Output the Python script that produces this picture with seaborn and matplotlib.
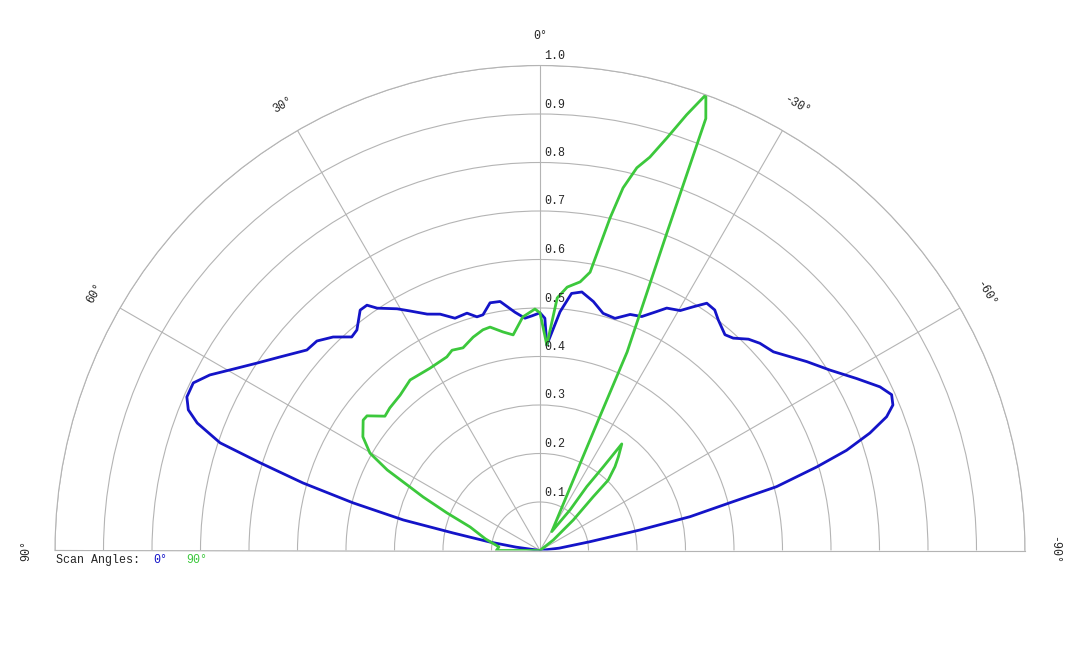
import numpy as np
import pandas as pd
import matplotlib
matplotlib.use('Agg')
import matplotlib.pyplot as plt
import matplotlib.transforms as mtransforms
import seaborn as sns

# scan 0 deg (blue), angles in degrees (0 = top, + = left)
theta_0 = [90, 82, 80.4, 78.6, 77.4, 75.7, 74.1, 72.6, 71.4, 69.6,
           68.2, 66.5, 64.2, 62.0, 59.8, 56.5, 53.3, 49.3, 46.8, 44.1,
           41.4, 39.7, 36.8, 35.2, 33.9, 30.6, 28.5, 25.5, 22.9, 20.1,
           17.1, 15.1, 13.6, 11.4, 9.1, 6.0, 3.7, 2.0, 0.0, -1.2,
           -1.9, -4.8, -7.0, -9.2, -12.1, -14.9, -17.9, -20.9, -23.5, -26.0,
           -27.6, -30.3, -32.2, -34.0, -36.0, -37.7, -40.6, -42.3, -44.6, -46.7,
           -49.6, -51.7, -54.7, -58.1, -61.5, -64.3, -66.1, -67.6, -68.9, -70.4,
           -71.9, -73.2, -74.9, -75.8, -77.3, -78.4, -80.0, -83, -90]
r_0 = [0, 0.05, 0.105, 0.183, 0.289, 0.398, 0.508, 0.605, 0.696, 0.754,
       0.781, 0.794, 0.794, 0.771, 0.740, 0.700, 0.668, 0.634, 0.631, 0.613,
       0.587, 0.591, 0.619, 0.619, 0.602, 0.579, 0.562, 0.540, 0.529, 0.510,
       0.512, 0.499, 0.500, 0.521, 0.520, 0.494, 0.480, 0.484, 0.490, 0.479,
       0.424, 0.494, 0.534, 0.540, 0.525, 0.506, 0.503, 0.521, 0.526, 0.548,
       0.564, 0.573, 0.594, 0.615, 0.613, 0.601, 0.586, 0.592, 0.612, 0.623,
       0.632, 0.648, 0.674, 0.704, 0.743, 0.778, 0.793, 0.787, 0.766, 0.722,
       0.665, 0.596, 0.505, 0.411, 0.317, 0.210, 0.105, 0.04, 0]

# scan 90 deg (green)
theta_90 = [90, 90, 85, 78, 71.4, 68.0, 65.4, 64.0, 62.2, 60.2,
            57.3, 53.6, 52.1, 49.1, 46.5, 42.0, 37.3, 31.1, 25.7, 23.7,
            20.8, 17.4, 14.5, 12.6, 9.6, 7.1, 4.2, 1.2, 0.0, -1.9,
            -3.9, -5.9, -8.5, -10.2, -11.9, -12.9, -14.2, -15.6, -17.1, -18.6,
            -20.0, -21.0, -21.8, -23.7, -24.1, -24.7, -26.3, -31.9, -36.5, -36.2,
            -37.1, -37.5, -39.9, -41.8, -44.1, -44.7, -47.5, -51.7, -60, -90]
r_90 = [0, 0.09, 0.085, 0.115, 0.152, 0.207, 0.265, 0.298, 0.356, 0.404,
        0.434, 0.453, 0.452, 0.423, 0.427, 0.431, 0.442, 0.439, 0.443, 0.451,
        0.447, 0.461, 0.470, 0.472, 0.457, 0.448, 0.483, 0.498, 0.490, 0.424,
        0.522, 0.546, 0.560, 0.583, 0.701, 0.767, 0.814, 0.842, 0.890, 0.948,
        1.0, 0.954, 0.700, 0.447, 0.295, 0.205, 0.116, 0.046, 0.104, 0.163,
        0.217, 0.277, 0.252, 0.232, 0.202, 0.156, 0.093, 0.035, 0, 0]

theta_ticks = [90, 60, 30, 0, -30, -60, -90]
r_ticks = [0.1, 0.2, 0.3, 0.4, 0.5, 0.6, 0.7, 0.8, 0.9, 1.0]

sns.set_style('white')
plt.rcParams['font.family'] = ['Liberation Mono', 'DejaVu Sans']

grid_col = '#b4b4b4'
blue = '#1414c8'
green = '#3cc83c'
fs = 8.4

fig = plt.figure(figsize=(10.8, 6.48), dpi=100)
# square box; the half disc is centred vertically inside it
ax = fig.add_axes([55 / 1080, (648 - 793) / 648, 970 / 1080, 970 / 648], projection='polar')
ax.set_theta_zero_location('N')
ax.set_theta_direction(1)
ax.set_thetamin(-90)
ax.set_thetamax(90)
ax.set_ylim(0, 1)

df0 = pd.DataFrame({'theta': np.deg2rad(theta_0), 'r': r_0})
df90 = pd.DataFrame({'theta': np.deg2rad(theta_90), 'r': r_90})
sns.lineplot(data=df0, x='theta', y='r', sort=False, estimator=None,
             color=blue, lw=2, solid_joinstyle='round', ax=ax)
sns.lineplot(data=df90, x='theta', y='r', sort=False, estimator=None,
             color=green, lw=2, solid_joinstyle='round', ax=ax)
ax.set_xlabel('')
ax.set_ylabel('')

ax.set_xticks(np.deg2rad(theta_ticks))
ax.set_xticklabels([])
ax.set_yticks(r_ticks)
ax.set_yticklabels([])
ax.grid(True, color=grid_col, lw=0.8)
ax.tick_params(length=0)
for sp in ax.spines.values():
    sp.set_color(grid_col)
    sp.set_linewidth(0.8)

# angle labels, tangential
for t in theta_ticks:
    ax.text(np.deg2rad(t), 1.06, f'{t}°', rotation=t, rotation_mode='anchor',
            ha='center', va='center', fontsize=fs, clip_on=False)

# ring labels along the 0 deg spoke
off = mtransforms.offset_copy(ax.transData, fig=fig, x=4, y=3.5, units='dots')
for r in r_ticks:
    ax.text(0, r, f'{r:.1f}', transform=off, ha='left', va='bottom', fontsize=fs)

fig.text(56 / 1080, 1 - 560 / 648, 'Scan Angles:', ha='left', va='center', fontsize=fs)
fig.text(153 / 1080, 1 - 560 / 648, '0°', ha='left', va='center', fontsize=fs, color=blue)
fig.text(186 / 1080, 1 - 560 / 648, '90°', ha='left', va='center', fontsize=fs, color=green)

fig.savefig('out.png', dpi=100)
